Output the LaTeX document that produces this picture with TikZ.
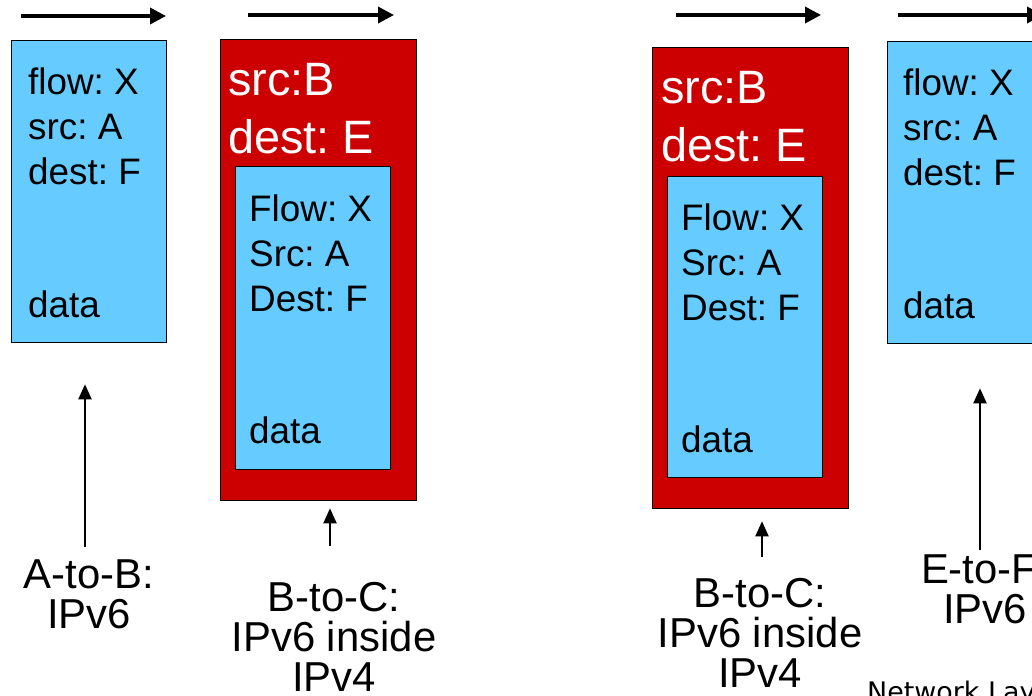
\documentclass[tikz,border=0pt]{standalone}
\usepackage{fontspec}
\setmainfont{Liberation Sans}
\newfontfamily\footfont{DejaVu Sans}
\usetikzlibrary{arrows.meta, positioning, calc}
\frenchspacing

\definecolor{sixblue}{HTML}{66CCFF}
\definecolor{fourred}{HTML}{CC0000}

\begin{document}
\begin{tikzpicture}[
 x=1bp, y=-1bp,
 ipsix/.style={rectangle, draw, line width=1.3bp, fill=sixblue, minimum width=155bp, minimum height=302bp, anchor=north west, inner sep=0},
 ipfour/.style={rectangle, draw, line width=1.3bp, fill=fourred, minimum width=196bp, minimum height=461bp, anchor=north west, inner sep=0},
 hdr/.style={align=left, inner sep=0, anchor=north west, font=\fontsize{37}{45}\selectfont},
 outhdr/.style={align=left, inner sep=0, anchor=north west, text=white, font=\fontsize{47}{58}\selectfont},
 lbl/.style={align=center, inner sep=0, anchor=north, font=\fontsize{42}{40}\selectfont},
 flow/.style={-{Triangle[length=16bp, width=16bp]}, line width=3.5bp},
 uparrow/.style={-{Triangle[length=15bp, width=13bp]}, line width=2bp}
]
\clip (0,0) rectangle (1032,696);

% direction of travel
\coordinate (f1s) at (21,16);  \coordinate (f1e) at (166,16);
\coordinate (f2s) at (248,15); \coordinate (f2e) at (394,15);
\coordinate (f3s) at (676,15); \coordinate (f3e) at (821,15);
\coordinate (f4s) at (898,15); \coordinate (f4e) at (1043,15);
\draw[flow] (f1s) -- (f1e);
\draw[flow] (f2s) -- (f2e);
\draw[flow] (f3s) -- (f3e);
\draw[flow] (f4s) -- (f4e);

% A-to-B
\node[ipsix] (pkt1) at (11,40) {};
\node[hdr] (pkt1h) at ($(pkt1.north west)+(17,28)$) {flow: X\\src: A\\dest: F};
\node[hdr] (pkt1d) at ($(pkt1.north west)+(17,251)$) {data};

% B-to-C, first
\node[ipfour] (tun1) at (220,39) {};
\node[outhdr] (tun1h) at ($(tun1.north west)+(8,24)$) {src:B\\dest: E};
\node[ipsix, minimum height=303bp] (in1) at (235,166) {};
\node[hdr] (in1h) at ($(in1.north west)+(14,29)$) {Flow: X\\Src: A\\Dest: F};
\node[hdr] (in1d) at ($(in1.north west)+(14,251)$) {data};

% B-to-C, second
\node[ipfour] (tun2) at (652,47) {};
\node[outhdr] (tun2h) at ($(tun2.north west)+(9,24)$) {src:B\\dest: E};
\node[ipsix, minimum height=301bp] (in2) at (667,176) {};
\node[hdr] (in2h) at ($(in2.north west)+(14,28)$) {Flow: X\\Src: A\\Dest: F};
\node[hdr] (in2d) at ($(in2.north west)+(14,250)$) {data};

% E-to-F
\node[ipsix] (pkt4) at (887,41) {};
\node[hdr] (pkt4h) at ($(pkt4.north west)+(16,28)$) {flow: X\\src: A\\dest: F};
\node[hdr] (pkt4d) at ($(pkt4.north west)+(16,251)$) {data};

% labels
\node[lbl] (ab) at (89,560) {A-to-B:\\IPv6};
\node[lbl] (bc1) at (334,582) {B-to-C:\\IPv6 inside\\IPv4};
\node[lbl] (bc2) at (760,578) {B-to-C:\\IPv6 inside\\IPv4};
\node[lbl] (ef) at (985,555) {E-to-F:\\IPv6};

\draw[uparrow, shorten <=13bp, shorten >=41bp] ([xshift=-4bp]ab.north) -- ([xshift=-4bp]ab.north |- pkt1.south);
\draw[uparrow, shorten <=36bp, shorten >=7bp] ([xshift=-4bp]bc1.north) -- ([xshift=-4bp]bc1.north |- tun1.south);
\draw[uparrow, shorten <=21bp, shorten >=12bp] ([xshift=2bp]bc2.north) -- ([xshift=2bp]bc2.north |- tun2.south);
\draw[uparrow, shorten <=5bp, shorten >=44bp] ([xshift=-5bp]ef.north) -- ([xshift=-5bp]ef.north |- pkt4.south);

\node[inner sep=0, anchor=north west, font=\footfont\fontsize{27}{27}\selectfont] (foot) at (867,681) {Network Layer};
\end{tikzpicture}
\end{document}
